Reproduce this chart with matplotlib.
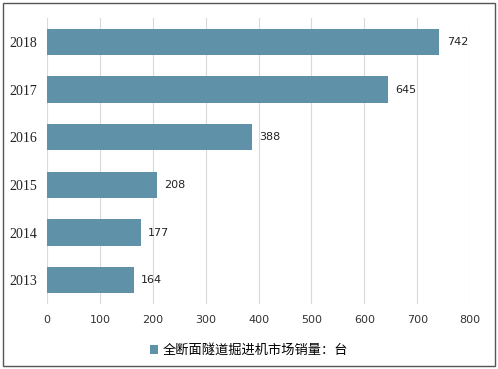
import matplotlib
matplotlib.use("Agg")
import matplotlib.pyplot as plt
from matplotlib.patches import Rectangle

years = ["2013", "2014", "2015", "2016", "2017", "2018"]
values = [164, 177, 208, 388, 645, 742]
series_name = "全断面隧道掘进机市场销量：台"
xticks = [0, 100, 200, 300, 400, 500, 600, 700, 800]

plt.rcParams['font.family'] = ['Noto Sans CJK SC', 'DejaVu Sans']

fig = plt.figure(figsize=(4.98, 3.69), dpi=100)
ax = fig.add_axes([0.0944, 0.176, 0.8496, 0.775])
color = "#5f92a8"
ypos = list(range(len(years)))
ax.barh(ypos, values, height=0.55, color=color, zorder=3, label=series_name)
for y, v in zip(ypos, values):
    ax.text(v + 14, y, str(v), va="center", ha="left", fontsize=8, color="#222222",
            family=['DejaVu Sans'])
ax.set_xlim(0, 800)
ax.set_ylim(-0.5, len(years) - 0.5)
ax.set_xticks(xticks)
ax.set_xticklabels([str(t) for t in xticks], fontsize=8, family=['DejaVu Sans'], color="#333333")
ax.set_yticks(ypos)
ax.set_yticklabels(years, fontsize=10, family=['Liberation Serif'], color="#222222")
ax.tick_params(axis='both', length=0, pad=8)
ax.tick_params(axis='y', pad=7)
ax.grid(axis='x', color="#d9d9d9", linewidth=0.8, zorder=0)
for s in ax.spines.values():
    s.set_visible(False)

fig.legend(loc="lower center", bbox_to_anchor=(0.5, 0.0), frameon=False, fontsize=9.5,
           handlelength=0.6, handleheight=0.6, handletextpad=0.3)

fig.patches.append(Rectangle((0.006, 0.008), 0.988, 0.984, transform=fig.transFigure,
                             fill=False, edgecolor="#555555", linewidth=1.0))
fig.savefig("out.png", dpi=100)
